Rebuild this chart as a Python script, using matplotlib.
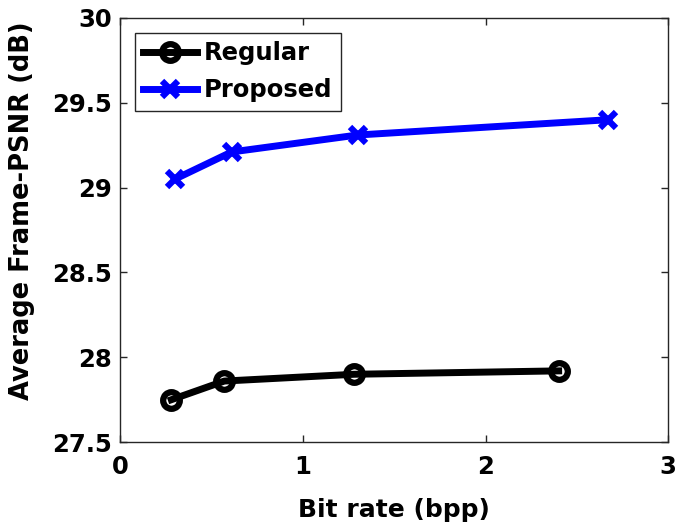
import matplotlib
matplotlib.use("Agg")
import matplotlib.pyplot as plt

plt.rcParams['font.family'] = ['DejaVu Sans']
plt.rcParams['font.weight'] = 'bold'

reg_x = [0.28, 0.57, 1.28, 2.40]
reg_y = [27.75, 27.86, 27.90, 27.92]
prop_x = [0.30, 0.61, 1.30, 2.67]
prop_y = [29.05, 29.21, 29.31, 29.40]
xticks = [0, 1, 2, 3]
yticks = [27.5, 28, 28.5, 29, 29.5, 30]
ytick_labels = ["27.5", "28", "28.5", "29", "29.5", "30"]

fig = plt.figure(figsize=(6.75, 5.27), dpi=100)
ax = fig.add_axes([0.178, 0.161, 0.812, 0.805])

ax.plot(reg_x, reg_y, color="black", lw=5, marker="o", ms=12, mew=4.5,
        mfc="none", label="Regular")
ax.plot(prop_x, prop_y, color="#0000ff", lw=5, marker="x", ms=12, mew=4.5,
        label="Proposed")

ax.set_xlim(0, 3); ax.set_ylim(27.5, 30)
ax.set_xticks(xticks); ax.set_xticklabels([str(t) for t in xticks])
ax.set_yticks(yticks); ax.set_yticklabels(ytick_labels)
ax.tick_params(direction="in", top=True, right=True, labelsize=17.5, length=5,
               width=1, color="#262626")
ax.tick_params(axis="x", pad=9)
ax.tick_params(axis="y", pad=6)
for s in ax.spines.values():
    s.set_color("#262626"); s.set_linewidth(1)
ax.set_xlabel("Bit rate (bpp)", fontsize=18, fontweight="bold", labelpad=14)
ax.set_ylabel("Average Frame-PSNR (dB)", fontsize=18.5, fontweight="bold")
ax.yaxis.set_label_coords(-0.155, 0.545)

leg = ax.legend(loc="upper left", fontsize=17.5, fancybox=False, framealpha=1,
                edgecolor="#262626", handlelength=2.2, borderpad=0.35,
                labelspacing=0.55, handletextpad=0.3, borderaxespad=0.6)
leg.get_frame().set_linewidth(1)

fig.savefig("out.png", dpi=100, facecolor="white")
